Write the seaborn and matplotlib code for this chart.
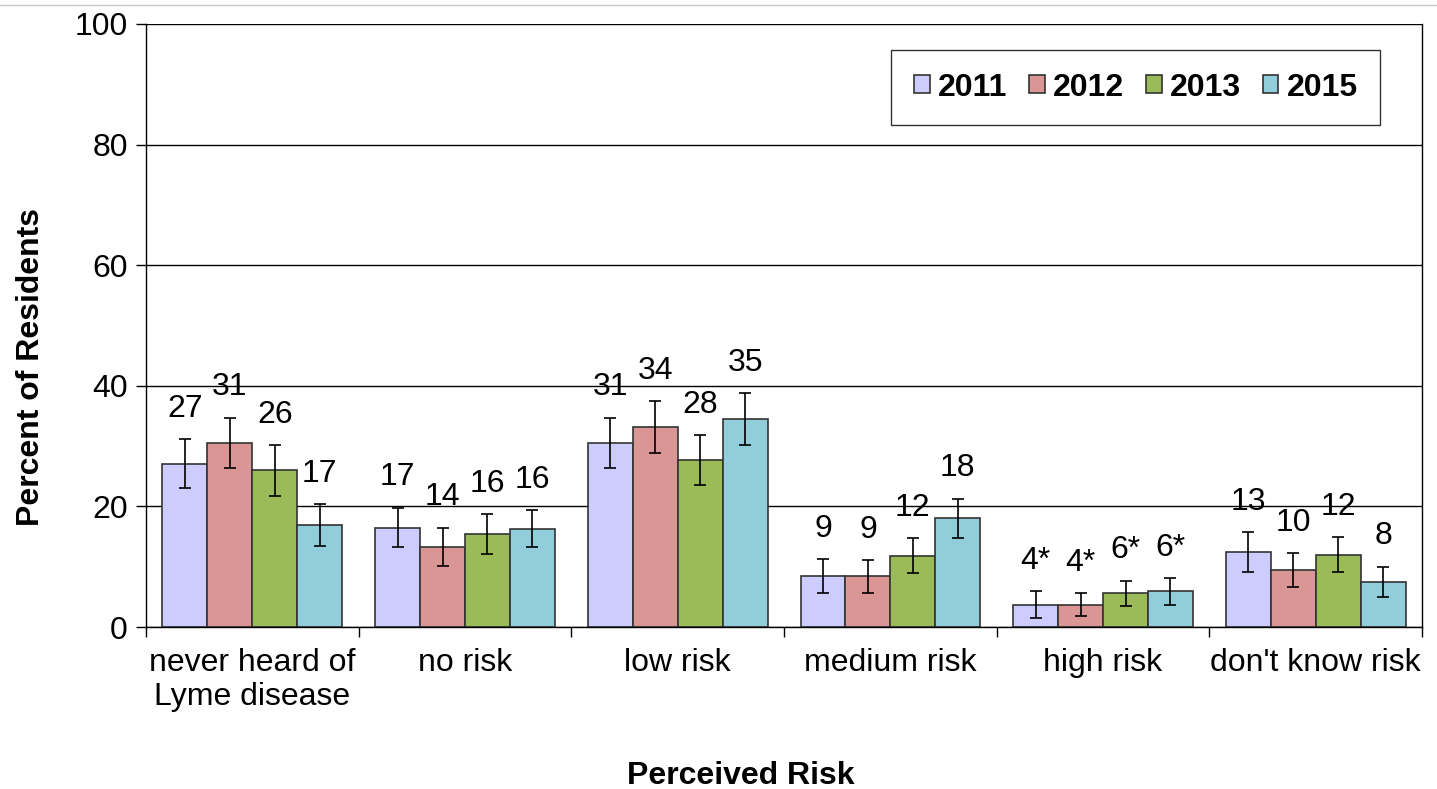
import pandas as pd
import seaborn as sns
import matplotlib.pyplot as plt
from matplotlib.patches import Patch
from matplotlib.lines import Line2D

# Perceived risk of Lyme disease among residents, by survey year
categories = ["never heard of\nLyme disease", "no risk", "low risk",
              "medium risk", "high risk", "don't know risk"]
years = ["2011", "2012", "2013", "2015"]

pct_2011 = [27.1, 16.5, 30.5, 8.4, 3.7, 12.4]
pct_2012 = [30.5, 13.3, 33.2, 8.4, 3.7, 9.5]
pct_2013 = [26.0, 15.4, 27.7, 11.8, 5.6, 12.0]
pct_2015 = [16.9, 16.3, 34.5, 18.0, 5.9, 7.5]

err_2011 = [4.0, 3.3, 4.2, 2.8, 2.2, 3.3]
err_2012 = [4.2, 3.2, 4.3, 2.7, 1.9, 2.8]
err_2013 = [4.2, 3.3, 4.1, 2.9, 2.1, 2.9]
err_2015 = [3.5, 3.1, 4.3, 3.3, 2.2, 2.5]

lbl_2011 = ["27", "17", "31", "9", "4*", "13"]
lbl_2012 = ["31", "14", "34", "9", "4*", "10"]
lbl_2013 = ["26", "16", "28", "12", "6*", "12"]
lbl_2015 = ["17", "16", "35", "18", "6*", "8"]

colors = ["#CCCCFF", "#DA9694", "#9BBB59", "#92CDDC"]

values = [pct_2011, pct_2012, pct_2013, pct_2015]
errors = [err_2011, err_2012, err_2013, err_2015]
labels = [lbl_2011, lbl_2012, lbl_2013, lbl_2015]

rows = []
for yr, vals in zip(years, values):
    for cat, v in zip(categories, vals):
        rows.append({"risk": cat, "year": yr, "pct": v})
df = pd.DataFrame(rows)

sns.set_style("white")
plt.rcParams["font.family"] = ["Liberation Sans", "DejaVu Sans"]
plt.rcParams["text.color"] = "black"
plt.rcParams["axes.labelcolor"] = "black"
plt.rcParams["xtick.color"] = "black"
plt.rcParams["ytick.color"] = "black"

FS = 23

fig = plt.figure(figsize=(14.37, 7.89), dpi=100)
ax = fig.add_axes([0.1016, 0.2053, 0.888, 0.7643])

sns.barplot(data=df, x="risk", y="pct", hue="year", order=categories,
            hue_order=years, palette=colors, saturation=1, width=0.845,
            errorbar=None, edgecolor="#333333", linewidth=1.2,
            legend=False, ax=ax)

# error bars and value labels above each bar
for cont, errs, lbls in zip(ax.containers, errors, labels):
    xs = [b.get_x() + b.get_width() / 2 for b in cont]
    hs = [b.get_height() for b in cont]
    ax.errorbar(xs, hs, yerr=errs, fmt="none", ecolor="black",
                elinewidth=1.2, capsize=4, capthick=1.2, zorder=4)
    for x, h, e, t in zip(xs, hs, errs, lbls):
        ax.annotate(t, (x, h + e), xytext=(0, 11), textcoords="offset points",
                    ha="center", va="bottom", fontsize=FS, color="black")

ax.set_ylim(0, 100)
ax.set_xlim(-0.5, len(categories) - 0.5)
ax.set_yticks([0, 20, 40, 60, 80, 100])
ax.yaxis.grid(True, color="black", linewidth=1.0)
ax.set_axisbelow(True)

for side in ["left", "right", "bottom"]:
    ax.spines[side].set_visible(True)
    ax.spines[side].set_color("black")
    ax.spines[side].set_linewidth(1.0)
ax.spines["top"].set_visible(False)

ax.tick_params(axis="y", which="major", direction="out", length=7,
               width=1, left=True, labelsize=FS, pad=6)
ax.tick_params(axis="x", which="major", length=0, labelsize=FS, pad=15)
ax.set_xticks([i - 0.5 for i in range(len(categories) + 1)], minor=True)
ax.tick_params(axis="x", which="minor", direction="out", length=7,
               width=1, bottom=True)

ax.set_xlabel("Perceived Risk", fontsize=FS, fontweight="bold")
ax.set_ylabel("Percent of Residents", fontsize=FS, fontweight="bold")
ax.xaxis.set_label_coords(0.466, -0.222)
ax.yaxis.set_label_coords(-0.078, 0.431)

handles = [Patch(facecolor=c, edgecolor="#333333", linewidth=1.2) for c in colors]
leg = ax.legend(handles, years, loc="lower left", mode="expand", ncol=4,
                bbox_to_anchor=(0.584, 0.8325, 0.383, 0.1225),
                prop={"weight": "bold", "size": FS}, frameon=True,
                fancybox=False, handlelength=0.5, handleheight=0.5,
                handletextpad=0.25, borderpad=0.7, borderaxespad=0)
leg.get_frame().set_edgecolor("black")
leg.get_frame().set_linewidth(1.0)

# thin gray rule at the top of the page
fig.add_artist(Line2D([0, 1], [0.994, 0.994], color="#C8C8C8", linewidth=1.0))

fig.savefig("out.png", dpi=100)
